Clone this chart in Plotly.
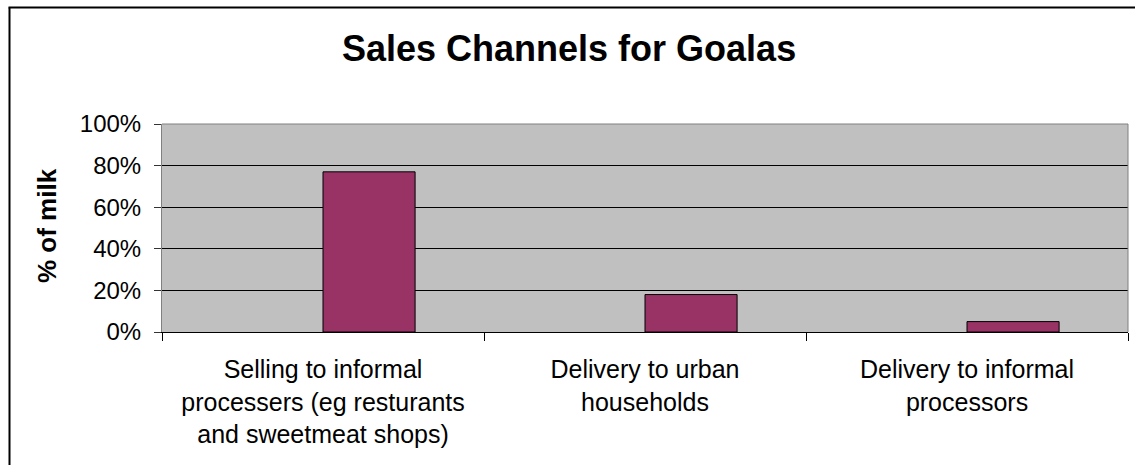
import plotly.graph_objects as go

# Sales channel shares (fraction of milk sold)
channels = [
    "Selling to informal<br>processers (eg resturants<br>and sweetmeat shops)",
    "Delivery to urban<br>households",
    "Delivery to informal<br>processors",
]
share_of_milk = [0.77, 0.18, 0.05]
y_ticks = [0, 0.2, 0.4, 0.6, 0.8, 1.0]
y_tick_text = ["0%", "20%", "40%", "60%", "80%", "100%"]

W, H = 1135, 465
L, R, T, B = 162, 7, 124, 133
plot_w = W - L - R
plot_h = H - T - B


def px_x(px):
    return (px - L) / plot_w


def px_y(py):
    return (H - B - py) / plot_h


FONT = "Liberation Sans, Arial, sans-serif"

fig = go.Figure(
    go.Bar(
        x=channels,
        y=share_of_milk,
        width=0.286,
        offset=0,
        marker=dict(color="#993366", line=dict(color="#000000", width=1)),
        hoverinfo="y",
    )
)

fig.update_layout(
    width=W,
    height=H,
    margin=dict(l=L, r=R, t=T, b=B, pad=0),
    paper_bgcolor="#ffffff",
    plot_bgcolor="#c0c0c0",
    showlegend=False,
    font=dict(family=FONT, color="#000000"),
    xaxis=dict(
        type="category",
        range=[-0.5, 2.5],
        tickson="boundaries",
        ticks="outside",
        ticklen=8,
        tickcolor="#000000",
        showline=True,
        linecolor="#000000",
        linewidth=1,
        showgrid=False,
        tickfont=dict(size=25, family=FONT),
        ticklabelstandoff=15,
    ),
    yaxis=dict(
        range=[0, 1],
        tickvals=y_ticks,
        ticktext=y_tick_text,
        ticks="outside",
        ticklen=7,
        tickcolor="#333333",
        showline=True,
        linecolor="#808080",
        linewidth=1,
        showgrid=True,
        gridcolor="#000000",
        gridwidth=1,
        zeroline=False,
        tickfont=dict(size=24, family=FONT),
        ticklabelstandoff=8,
    ),
    shapes=[
        # outer chart frame (left and top edges)
        dict(type="line", xref="paper", yref="paper",
             x0=px_x(9.5), x1=px_x(9.5), y0=px_y(H), y1=px_y(7.5),
             line=dict(color="#000000", width=2), layer="above"),
        dict(type="line", xref="paper", yref="paper",
             x0=px_x(8.5), x1=px_x(W), y0=px_y(7.5), y1=px_y(7.5),
             line=dict(color="#000000", width=2), layer="above"),
        # plot area border (top, right)
        dict(type="line", xref="paper", yref="paper", x0=0, x1=1, y0=1, y1=1,
             line=dict(color="#808080", width=1), layer="above"),
        dict(type="line", xref="paper", yref="paper", x0=1, x1=1, y0=0, y1=1,
             line=dict(color="#808080", width=1), layer="above"),
    ],
    annotations=[
        dict(text="<b>Sales Channels for Goalas</b>", xref="paper", yref="paper",
             x=px_x(569), y=px_y(48.5), xanchor="center", yanchor="middle",
             showarrow=False, font=dict(size=36, family=FONT)),
        dict(text="<b>% of milk</b>", xref="paper", yref="paper",
             x=px_x(47), y=px_y(226), xanchor="center", yanchor="middle",
             textangle=-90, showarrow=False, font=dict(size=26, family=FONT)),
    ],
)

fig.write_html("out.html")
